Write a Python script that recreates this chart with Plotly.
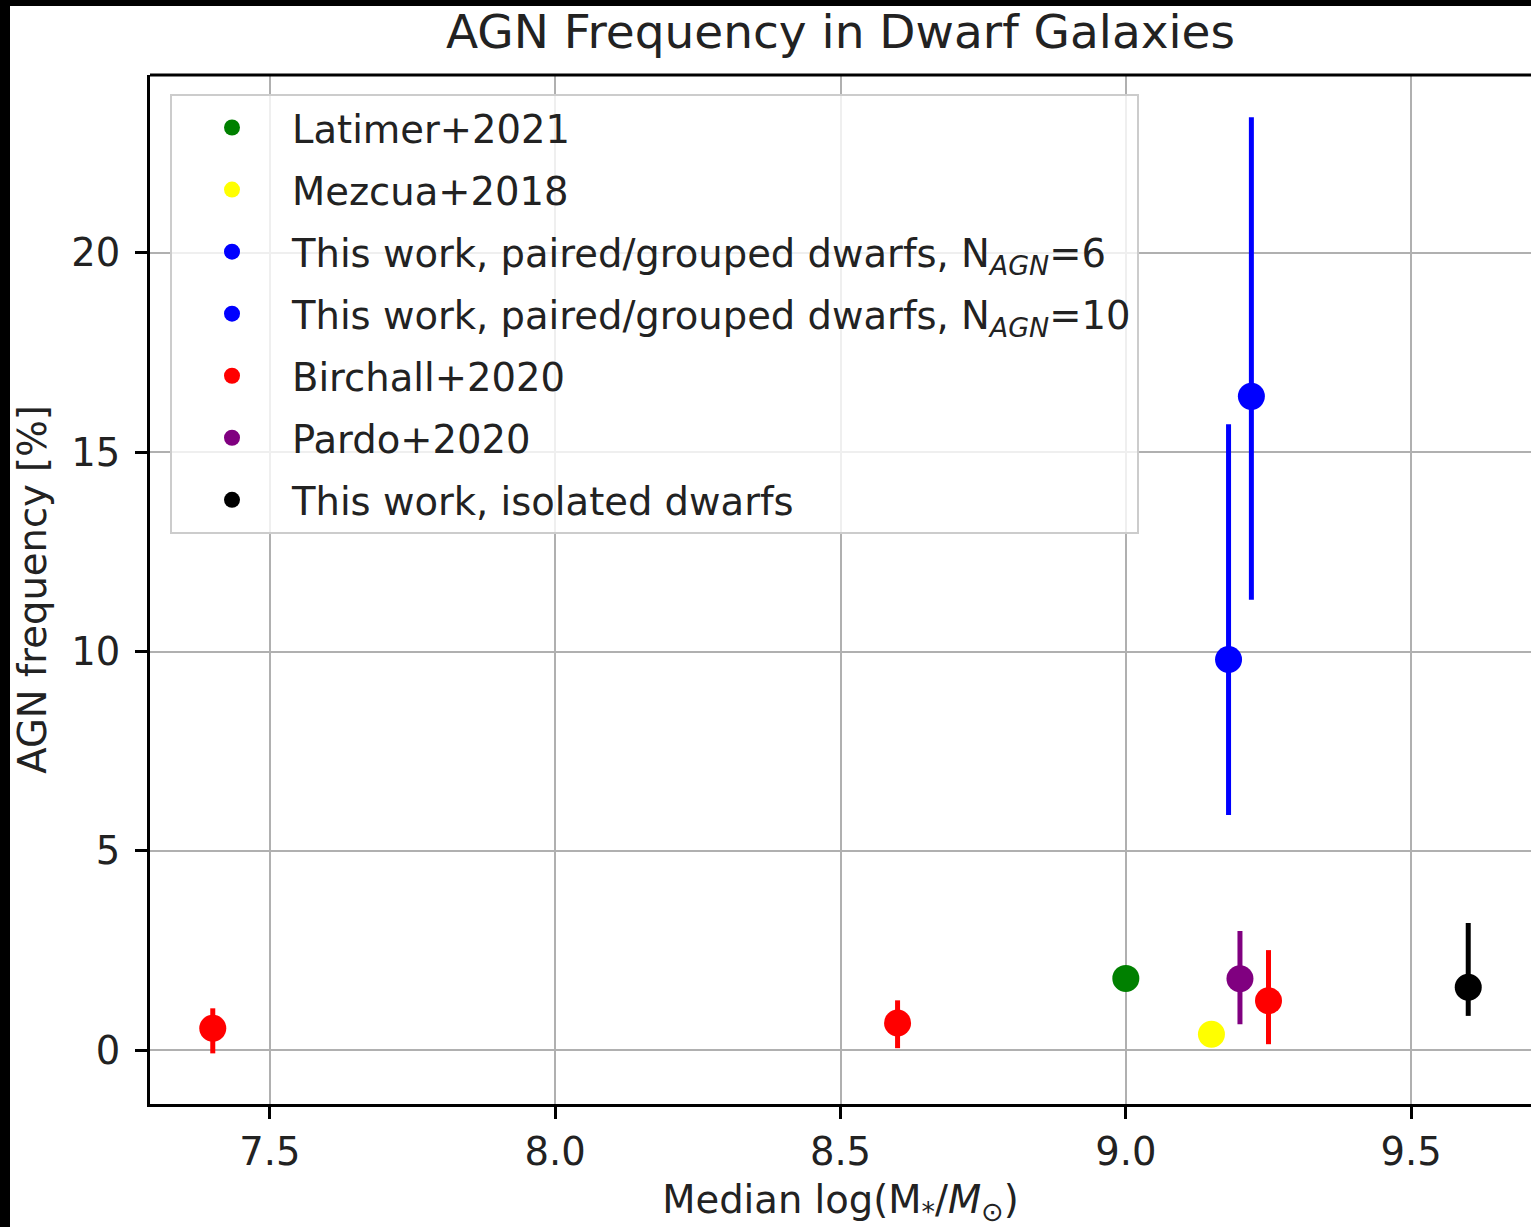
import plotly.graph_objects as go

# ---- data ----
names = [
    "Latimer+2021",
    "Mezcua+2018",
    "This work, paired/grouped dwarfs, N<sub><i>AGN</i></sub>=6",
    "This work, paired/grouped dwarfs, N<sub><i>AGN</i></sub>=10",
    "Birchall+2020",
    "Pardo+2020",
    "This work, isolated dwarfs",
]
colors = ["green", "yellow", "blue", "blue", "red", "purple", "black"]
mass = [[9.00], [9.15], [9.18], [9.22], [7.40, 8.60, 9.25], [9.20], [9.60]]
freq = [[1.80], [0.40], [9.80], [16.40], [0.55, 0.68, 1.24], [1.79], [1.58]]
err_plus = [None, None, [5.9], [7.0], [0.50, 0.57, 1.27], [1.20], [1.61]]
err_minus = [None, None, [3.9], [5.1], [0.63, 0.63, 1.09], [1.14], [0.72]]

x_ticks = [7.5, 8.0, 8.5, 9.0, 9.5]
y_ticks = [0, 5, 10, 15, 20]

FONT = "DejaVu Sans"
TXT = "#222222"
FS = 38.5

fig = go.Figure()
for i, (n, c, xs, ys, ep, em) in enumerate(zip(names, colors, mass, freq, err_plus, err_minus)):
    kw = {}
    if ep is not None:
        kw["error_y"] = dict(type="data", symmetric=False, array=ep, arrayminus=em,
                             color=c, thickness=5, width=0)
    fig.add_trace(go.Scatter(x=xs, y=ys, mode="markers", name=n, legendgroup=f"g{i}",
                             marker=dict(color=c, size=27, line=dict(width=0)), **kw))

W, H = 1531, 1227
L, R, T, B = 150, 0, 75, 123
pw, ph = W - L - R, H - T - B

def px_x(p):
    return (p - L) / pw

def px_y(p):
    return (H - B - p) / ph

fig.update_layout(
    width=W, height=H,
    margin=dict(l=L, r=R, t=T, b=B, autoexpand=False),
    paper_bgcolor="white", plot_bgcolor="white",
    font=dict(family=FONT, size=FS, color=TXT),
    title=dict(text="AGN Frequency in Dwarf Galaxies", font=dict(size=47, color=TXT),
               x=0.5, xref="paper", xanchor="center", y=1 - 32 / H, yanchor="middle"),
    showlegend=True,
    legend=dict(x=px_x(170), y=px_y(94), xanchor="left", yanchor="top",
                bgcolor="rgba(255,255,255,0.8)", bordercolor="#cccccc", borderwidth=2,
                font=dict(size=FS, color=TXT), itemsizing="trace", itemwidth=110,
                tracegroupgap=9),
    xaxis=dict(range=[7.29, 9.71], tickvals=x_ticks, ticktext=[f"{v:.1f}" for v in x_ticks],
               showgrid=True, gridcolor="#b0b0b0", gridwidth=2, zeroline=False,
               showline=True, linecolor="black", linewidth=3, mirror=False,
               ticks="outside", ticklen=12, tickwidth=3, tickcolor="black",
               title=dict(text="Median log(M<sub>*</sub>/<i>M</i><sub>⊙</sub>)",
                          font=dict(size=FS, color=TXT), standoff=31)),
    yaxis=dict(range=[-1.35, 24.46], tickvals=y_ticks, ticktext=[str(v) for v in y_ticks],
               showgrid=True, gridcolor="#b0b0b0", gridwidth=2, zeroline=False,
               showline=True, linecolor="black", linewidth=3, mirror=False,
               ticks="outside", ticklen=12, tickwidth=3, tickcolor="black",
               ticklabelstandoff=7,
               title=dict(text="AGN frequency [%]", font=dict(size=FS, color=TXT), standoff=13)),
)

# top spine
fig.add_shape(type="line", xref="paper", yref="paper", x0=0, x1=1, y0=1, y1=1,
              line=dict(color="black", width=3))
# black border strips of the screenshot
fig.add_shape(type="rect", xref="paper", yref="paper", x0=px_x(0), x1=px_x(10),
              y0=px_y(H), y1=px_y(0), fillcolor="black", line=dict(width=0), layer="above")
fig.add_shape(type="rect", xref="paper", yref="paper", x0=px_x(0), x1=px_x(W),
              y0=px_y(6), y1=px_y(0), fillcolor="black", line=dict(width=0), layer="above")

fig.write_html("out.html", config={"displayModeBar": False},
               post_script="document.body.style.margin='0px';document.body.style.overflow='hidden';")
